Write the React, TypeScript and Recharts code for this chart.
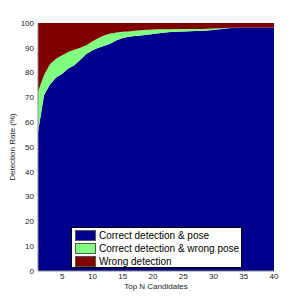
import React from "react";
import {
  AreaChart,
  Area,
  XAxis,
  YAxis,
} from "recharts";

const topN = Array.from({ length: 40 }, (_, i) => i + 1);

// correct detection & correct pose (%)
const correctPose = [
  56, 71, 75.3, 78, 79.5, 81.7, 83, 85.2, 87.5, 89,
  90, 90.8, 91.7, 93, 94, 94.5, 94.8, 95, 95.3, 95.6,
  95.9, 96.2, 96.4, 96.5, 96.6, 96.7, 96.8, 96.9, 97, 97.2,
  97.5, 97.8, 98, 98.2, 98.2, 98.2, 98.2, 98.2, 98.2, 98.2,
];

// correct detection in total (%)
const correctDetection = [
  72.3, 79, 83.5, 85.6, 87, 88.3, 89.2, 90, 91, 92.6,
  94, 95.1, 95.8, 96.2, 96.5, 96.6, 96.9, 97.1, 97.3, 97.4,
  97.5, 97.5, 97.5, 97.6, 97.6, 97.6, 97.6, 97.6, 97.7, 97.8,
  97.9, 98, 98.1, 98.2, 98.2, 98.2, 98.2, 98.2, 98.2, 98.2,
];

const xTicks = [5, 10, 15, 20, 25, 30, 35, 40];
const yTicks = [0, 10, 20, 30, 40, 50, 60, 70, 80, 90, 100];

const series = [
  { key: "pose", name: "Correct detection & pose", color: "#00008f" },
  { key: "wrongPose", name: "Correct detection & wrong pose", color: "#80ff80" },
  { key: "wrong", name: "Wrong detection", color: "#800000" },
];

const data = topN.map((n, i) => ({
  n,
  pose: correctPose[i],
  wrongPose: +(correctDetection[i] - correctPose[i]).toFixed(2),
  wrong: +(100 - correctDetection[i]).toFixed(2),
}));

const font = "'Liberation Sans', Arial, sans-serif";

function LegendBox() {
  return (
    <div
      style={{
        position: "absolute",
        left: 71,
        top: 227,
        width: 171,
        height: 41,
        boxSizing: "border-box",
        background: "#fff",
        border: "1px solid #000",
        padding: "1px 2px 0 3px",
        fontFamily: font,
        fontSize: 10,
        color: "#000",
        lineHeight: "13px",
        whiteSpace: "nowrap",
        overflow: "hidden",
      }}
    >
      {series.map((s) => (
        <div key={s.key} style={{ display: "flex", alignItems: "center", height: 13 }}>
          <span
            style={{
              display: "inline-block",
              width: 19,
              height: 9,
              background: s.color,
              border: "1px solid #555",
              marginRight: 3,
              flexShrink: 0,
            }}
          />
          {s.name}
        </div>
      ))}
    </div>
  );
}

export default function App() {
  return (
    <div
      style={{
        margin: -8,
        width: 299,
        height: 301,
        background: "#fff",
        position: "relative",
      }}
    >
      <AreaChart
        width={299}
        height={301}
        data={data}
        margin={{ top: 23, right: 25, left: 0, bottom: 0 }}
      >
        <XAxis
          dataKey="n"
          type="number"
          domain={[1, 40]}
          ticks={xTicks}
          height={30}
          tickLine={false}
          tickSize={0}
          axisLine={{ stroke: "#888" }}
          tickMargin={2}
          tick={{ fontSize: 8, fill: "#222", fontFamily: font }}
          label={{
            value: "Top N Candidates",
            position: "insideBottom",
            offset: 12,
            style: { fontSize: 8, fill: "#222", fontFamily: font },
          }}
        />
        <XAxis
          xAxisId="top"
          dataKey="n"
          type="number"
          domain={[1, 40]}
          orientation="top"
          height={0}
          tick={false}
          tickLine={false}
          axisLine={{ stroke: "#888" }}
        />
        <YAxis
          domain={[0, 100]}
          ticks={yTicks}
          width={38}
          tickLine={false}
          tickSize={0}
          axisLine={{ stroke: "#888" }}
          tickMargin={4}
          tick={{ fontSize: 8, fill: "#222", fontFamily: font }}
          label={{
            value: "Detection Rate (%)",
            angle: -90,
            position: "insideLeft",
            offset: 12,
            style: { fontSize: 8, fill: "#222", fontFamily: font, textAnchor: "middle" },
          }}
        />
        <YAxis
          yAxisId="right"
          orientation="right"
          domain={[0, 100]}
          width={0}
          tick={false}
          tickLine={false}
          axisLine={{ stroke: "#888" }}
        />
        {series.map((s) => (
          <Area
            key={s.key}
            type="linear"
            dataKey={s.key}
            name={s.name}
            stackId="a"
            stroke="none"
            fill={s.color}
            fillOpacity={1}
            isAnimationActive={false}
          />
        ))}
      </AreaChart>
      <LegendBox />
    </div>
  );
}
